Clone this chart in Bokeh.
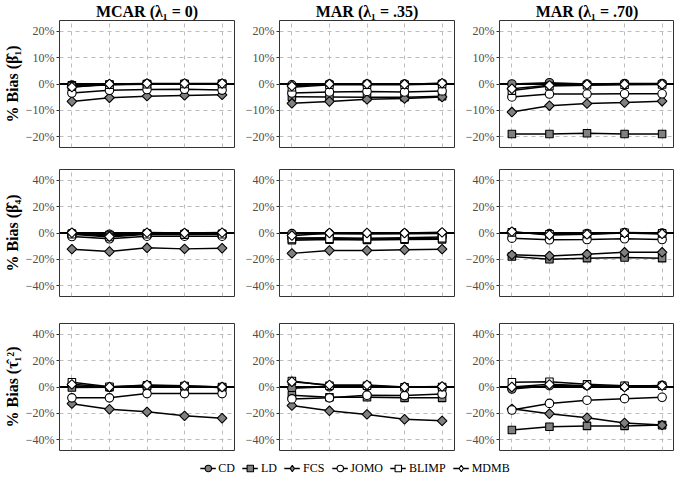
from bokeh.plotting import figure
from bokeh.models import Range1d, FixedTicker, Span, Legend, LegendItem, CustomJSTickFormatter
from bokeh.layouts import column, row
from bokeh.embed import file_html
from bokeh.resources import INLINE

# ---------------- data ----------------
conditions = [1, 2, 3, 4, 5]
methods = ["CD", "LD", "FCS", "JOMO", "BLIMP", "MDMB"]
col_titles = ["MCAR (λ\u2081 = 0)", "MAR (λ\u2081 = .35)", "MAR (λ\u2081 = .70)"]
row_labels = ["% Bias (β\u0302\u2081)", "% Bias (β\u0302\u2084)", "% Bias (τ\u0302\u2081\u00b2)"]
row_ticks = [[-20, -10, 0, 10, 20], [-40, -20, 0, 20, 40], [-40, -20, 0, 20, 40]]
row_limits = [(-24, 24), (-48, 48), (-48, 48)]

# % bias of beta1
beta1_mcar = {
    "CD":    [-0.4, -0.2, 0.1, 0.1, 0.1],
    "LD":    [-0.5, -0.2, 0.0, 0.0, 0.1],
    "FCS":   [-6.6, -5.2, -4.6, -4.3, -4.1],
    "JOMO":  [-3.4, -2.4, -2.1, -2.0, -2.3],
    "BLIMP": [-1.0, -0.3, -0.1, 0.0, 0.0],
    "MDMB":  [-1.2, 0.0, 0.2, 0.2, 0.2],
}
beta1_mar35 = {
    "CD":    [-0.3, 0.0, 0.0, 0.0, 0.2],
    "LD":    [-4.8, -4.9, -5.0, -5.0, -4.6],
    "FCS":   [-7.3, -6.6, -5.8, -5.5, -4.9],
    "JOMO":  [-3.4, -3.0, -2.8, -3.0, -2.6],
    "BLIMP": [-1.2, -0.3, -0.3, -0.3, 0.0],
    "MDMB":  [-0.8, 0.0, 0.0, -0.1, 0.3],
}
beta1_mar70 = {
    "CD":    [0.0, 0.5, 0.0, 0.2, 0.2],
    "LD":    [-18.9, -18.9, -18.6, -18.9, -18.9],
    "FCS":   [-10.6, -8.2, -7.4, -7.0, -6.5],
    "JOMO":  [-4.9, -3.8, -3.8, -3.7, -3.7],
    "BLIMP": [-2.5, -0.8, -0.5, -0.3, -0.2],
    "MDMB":  [-1.8, -0.5, -0.2, -0.1, -0.1],
}
# % bias of beta4
beta4_mcar = {
    "CD":    [-0.3, -1.0, -0.5, -0.5, -0.5],
    "LD":    [-0.5, -1.5, -0.5, -0.8, -0.6],
    "FCS":   [-12.2, -14.0, -11.2, -12.0, -11.5],
    "JOMO":  [-2.7, -4.4, -2.4, -2.4, -2.4],
    "BLIMP": [-1.0, -3.0, -1.0, -1.2, -1.0],
    "MDMB":  [0.2, -2.7, 0.3, 0.0, 0.3],
}
beta4_mar35 = {
    "CD":    [-0.5, -0.5, -0.8, -0.5, -0.3],
    "LD":    [-5.5, -5.0, -5.2, -5.0, -4.8],
    "FCS":   [-15.4, -13.2, -13.2, -12.7, -12.2],
    "JOMO":  [-3.8, -3.5, -4.0, -3.5, -3.0],
    "BLIMP": [-4.5, -4.3, -4.6, -4.3, -4.0],
    "MDMB":  [-2.0, 0.0, 0.0, 0.0, 0.5],
}
beta4_mar70 = {
    "CD":    [0.5, -0.5, -0.5, 0.3, 0.0],
    "LD":    [-17.8, -19.8, -19.0, -18.5, -19.0],
    "FCS":   [-16.5, -17.3, -16.0, -14.6, -14.6],
    "JOMO":  [-3.9, -5.1, -4.9, -4.4, -4.9],
    "BLIMP": [0.5, -1.0, -0.8, 0.2, -0.3],
    "MDMB":  [1.0, -1.5, -1.0, 0.0, -0.7],
}
# % bias of tau1^2
tau_mcar = {
    "CD":    [1.0, -0.3, 0.8, 0.3, -0.3],
    "LD":    [-0.4, -0.2, 0.5, 0.3, -0.3],
    "FCS":   [-12.6, -16.8, -18.8, -21.8, -23.6],
    "JOMO":  [-8.2, -8.2, -5.0, -5.0, -5.0],
    "BLIMP": [3.6, 0.2, 1.2, 0.8, 0.0],
    "MDMB":  [2.0, 0.0, 1.6, 1.0, 0.0],
}
tau_mar35 = {
    "CD":    [-1.0, 0.2, 0.5, -0.2, -0.2],
    "LD":    [-6.2, -7.8, -7.8, -8.2, -8.2],
    "FCS":   [-14.0, -18.0, -20.7, -24.4, -25.6],
    "JOMO":  [-9.0, -8.2, -6.2, -6.5, -5.3],
    "BLIMP": [4.5, 1.0, 1.0, -0.2, 0.0],
    "MDMB":  [4.0, 1.6, 1.6, 0.0, 0.4],
}
tau_mar70 = {
    "CD":    [-1.5, 1.0, 1.0, 0.5, 1.2],
    "LD":    [-32.5, -30.0, -29.4, -29.4, -28.8],
    "FCS":   [-16.5, -20.2, -23.2, -27.2, -28.8],
    "JOMO":  [-17.4, -12.4, -10.0, -8.8, -7.8],
    "BLIMP": [3.6, 4.0, 2.0, 1.0, 1.0],
    "MDMB":  [0.0, 2.0, 1.0, 0.0, 1.0],
}

panels = [
    [beta1_mcar, beta1_mar35, beta1_mar70],
    [beta4_mcar, beta4_mar35, beta4_mar70],
    [tau_mcar, tau_mar35, tau_mar70],
]

# ---------------- styles ----------------
SERIF = "Liberation Serif"
GRAY = "#808080"
fills = {"CD": GRAY, "LD": GRAY, "FCS": GRAY, "JOMO": "white", "BLIMP": "white", "MDMB": "white"}
markers = {"CD": "circle", "LD": "square", "FCS": "square", "JOMO": "circle", "BLIMP": "square", "MDMB": "square"}
angles = {"CD": 0, "LD": 0, "FCS": 0.785398, "JOMO": 0, "BLIMP": 0, "MDMB": 0.785398}
sizes = {"CD": 8.5, "LD": 7.5, "FCS": 6.8, "JOMO": 8.5, "BLIMP": 7.5, "MDMB": 6.8}
legend_markers = {"CD": "circle", "LD": "square", "FCS": "diamond", "JOMO": "circle", "BLIMP": "square", "MDMB": "diamond"}

FRAME_W = 175
FRAME_H = 127

tick_fmt = CustomJSTickFormatter(code="""
    return (tick < 0 ? "\\u2212" + Math.abs(tick) : String(tick)) + "%";
""")

top_border = [0, 12, 17]
bottom_border = [10, 10, 9]


def make_panel(r, c):
    data = panels[r][c]
    p = figure(
        frame_width=FRAME_W, frame_height=FRAME_H,
        x_range=Range1d(0.67, 5.33), y_range=Range1d(*row_limits[r]),
        output_backend="svg", toolbar_location=None,
        min_border_left=53 if c == 0 else 43,
        min_border_right=2 if c < 2 else 0,
        min_border_top=top_border[r],
        min_border_bottom=bottom_border[r],
        background_fill_color="white", border_fill_color="white",
    )
    if r == 0:
        p.title.text = col_titles[c]
        p.title.align = "center"
        p.title.text_font = SERIF
        p.title.text_font_style = "bold"
        p.title.text_font_size = "16px"
        p.title.text_color = "black"
        p.title.standoff = 1
    p.outline_line_color = "#333333"
    p.outline_line_width = 1

    # axes (x axis carries no labels in the reference)
    p.xaxis.visible = False

    p.yaxis.ticker = FixedTicker(ticks=row_ticks[r])
    p.yaxis.formatter = tick_fmt
    p.yaxis.axis_line_color = None
    p.yaxis.major_tick_in = 0
    p.yaxis.major_tick_out = 3
    p.yaxis.major_tick_line_color = "#333333"
    p.yaxis.minor_tick_line_color = None
    p.yaxis.major_label_text_font = SERIF
    p.yaxis.major_label_text_font_size = "12px"
    p.yaxis.major_label_text_color = "#4D4D4D"
    p.yaxis.major_label_standoff = 2
    if c == 0:
        p.yaxis.axis_label = row_labels[r]
        p.yaxis.axis_label_text_font = SERIF
        p.yaxis.axis_label_text_font_style = "bold"
        p.yaxis.axis_label_text_font_size = "16px"
        p.yaxis.axis_label_text_color = "black"
        p.yaxis.axis_label_standoff = 2

    # grid
    p.xgrid.ticker = FixedTicker(ticks=conditions)
    p.ygrid.ticker = FixedTicker(ticks=row_ticks[r])
    for g in (p.xgrid, p.ygrid):
        g.grid_line_color = "#BDBDBD"
        g.grid_line_dash = "4 4"
        g.grid_line_width = 1

    p.add_layout(Span(location=0, dimension="width", line_color="black",
                      line_width=2, level="underlay"))

    for m in methods:
        p.line(conditions, data[m], line_color="black", line_width=1.5)
    for m in methods:
        p.scatter(conditions, data[m], marker=markers[m], size=sizes[m],
                  angle=angles[m], fill_color=fills[m], line_color="black",
                  line_width=1.1)
    return p


rows = [row(*[make_panel(r, c) for c in range(3)]) for r in range(3)]

# legend strip: renderers hold real series but sit outside this strip's view
lg = figure(width=669, height=18, output_backend="svg", toolbar_location=None,
            x_range=Range1d(100, 101), y_range=Range1d(100, 101),
            min_border_left=40, min_border_right=0, min_border_top=0, min_border_bottom=0)
lg.axis.visible = False
lg.grid.visible = False
lg.outline_line_color = None
items = []
for m in methods:
    lr = lg.line(conditions, beta1_mcar[m], line_color="black", line_width=1.5)
    sr = lg.scatter(conditions, beta1_mcar[m], marker=legend_markers[m], fill_color=fills[m],
                    line_color="black", line_width=1.1)
    items.append(LegendItem(label=m, renderers=[lr, sr]))
legend = Legend(items=items, orientation="horizontal", location="center",
                border_line_color=None, background_fill_alpha=0,
                label_text_font=SERIF, label_text_font_size="12px",
                label_text_color="black", glyph_width=16, glyph_height=18,
                label_standoff=3, spacing=7, padding=0, margin=0,
                label_width=1, label_height=14)
lg.add_layout(legend)

layout = column(*rows, lg)

open("out.html", "w").write(file_html(layout, INLINE))
